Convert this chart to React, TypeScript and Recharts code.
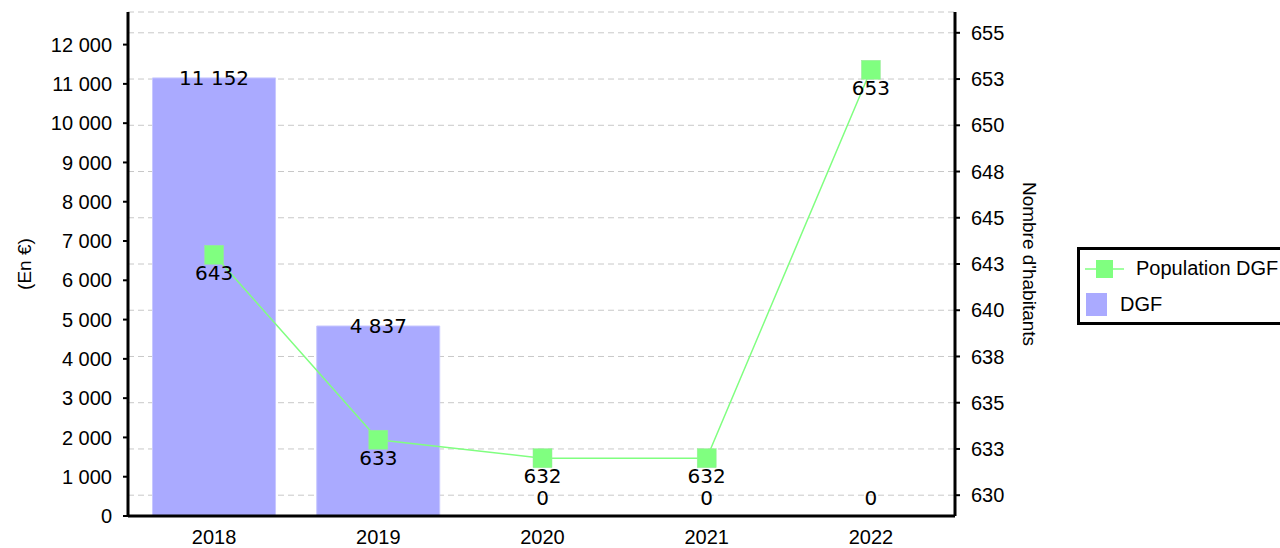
import React from "react";
import {
  ComposedChart,
  Bar,
  Line,
  XAxis,
  YAxis,
  CartesianGrid,
  LabelList,
} from "recharts";

// values
const years = ["2018", "2019", "2020", "2021", "2022"];
const dgf = [11152, 4837, 0, 0, 0];
const population = [643, 633, 632, 632, 653];

const leftTicks = [0, 1000, 2000, 3000, 4000, 5000, 6000, 7000, 8000, 9000, 10000, 11000, 12000];
const rightTicks = [630, 632.5, 635, 637.5, 640, 642.5, 645, 647.5, 650, 652.5, 655];
const leftDomain = [0, 12830];
const rightDomain = [628.875, 656.125];

const data = years.map((year, i) => ({ year, dgf: dgf[i], population: population[i] }));

const BAR_COLOR = "#aaaaff";
const LINE_COLOR = "#80ff80";
const SANS = "'Liberation Sans', Arial, sans-serif";
const DEJAVU = "'DejaVu Sans', sans-serif";

const spaced = (v: number) => String(v).replace(/\B(?=(\d{3})+(?!\d))/g, " ");

const SquareDot = (props: any) => {
  const { cx, cy } = props;
  if (cx == null || cy == null) return null;
  return <rect x={cx - 9.5} y={cy - 9.5} width={19} height={19} fill={LINE_COLOR} stroke="#9be89b" strokeWidth={0.5} />;
};

// bar value labels: centred on the bar top, zero values lifted above the axis
const BarValueLabel = (props: any) => {
  const { x, y, value } = props;
  if (x == null || y == null) return null;
  const cy = value === 0 ? y - 18 : y;
  return (
    <text
      x={x}
      y={cy}
      textAnchor="middle"
      dominantBaseline="central"
      fontFamily={DEJAVU}
      fontSize={20}
      fill="#000"
    >
      {spaced(value)}
    </text>
  );
};

const LegendBox = () => (
  <div
    style={{
      position: "absolute",
      left: 1077,
      top: 247,
      border: "3px solid #000",
      background: "#fff",
      width: 220,
      height: 78,
      boxSizing: "border-box",
      fontFamily: SANS,
      fontSize: 20,
      color: "#000",
    }}
  >
    <svg width={60} height={72} style={{ position: "absolute", left: 0, top: 0 }}>
      <line x1={5} y1={19} x2={44} y2={19} stroke={LINE_COLOR} strokeWidth={1.5} />
      <rect x={16} y={10} width={17} height={18} fill={LINE_COLOR} />
      <rect x={6} y={43} width={21} height={23} fill={BAR_COLOR} />
    </svg>
    <div style={{ position: "absolute", left: 56, top: 7, whiteSpace: "nowrap" }}>Population DGF</div>
    <div style={{ position: "absolute", left: 40, top: 43, whiteSpace: "nowrap" }}>DGF</div>
  </div>
);

export default function App() {
  return (
    <div style={{ position: "absolute", left: 0, top: 0, width: 1280, height: 548, background: "#fff" }}>
      <ComposedChart
        width={1280}
        height={548}
        data={data}
        margin={{ top: 12, right: 215, bottom: 0, left: 0 }}
        barCategoryGap="12.5%"
      >
        <CartesianGrid
          yAxisId="right"
          vertical={false}
          stroke="#c8c8c8"
          strokeDasharray="6 4"
        />
        <XAxis
          dataKey="year"
          height={32}
          padding={{ left: 4, right: 2 }}
          axisLine={{ stroke: "#000", strokeWidth: 3 }}
          tickLine={false}
          tickSize={0}
          tickMargin={14}
          tick={{ fill: "#000", fontSize: 20, fontFamily: SANS }}
          interval={0}
        />
        <YAxis
          yAxisId="left"
          width={128}
          domain={leftDomain}
          ticks={leftTicks}
          interval={0}
          tickFormatter={spaced}
          axisLine={{ stroke: "#000", strokeWidth: 3 }}
          tickLine={{ stroke: "#000", strokeWidth: 2 }}
          tickSize={5}
          tickMargin={11}
          tick={{ fill: "#000", fontSize: 20, fontFamily: SANS }}
          label={{
            value: "(En €)",
            angle: -90,
            position: "center",
            dx: -40,
            fill: "#000",
            fontSize: 19,
            fontFamily: SANS,
          }}
        />
        <YAxis
          yAxisId="right"
          orientation="right"
          width={110}
          domain={rightDomain}
          ticks={rightTicks}
          interval={0}
          tickFormatter={(v: number) => String(Math.round(v))}
          axisLine={{ stroke: "#000", strokeWidth: 3 }}
          tickLine={{ stroke: "#000", strokeWidth: 2 }}
          tickSize={5}
          tickMargin={11}
          tick={{ fill: "#000", fontSize: 20, fontFamily: SANS }}
          label={{
            value: "Nombre d'habitants",
            angle: 90,
            position: "center",
            dx: 20,
            fill: "#000",
            fontSize: 19,
            fontFamily: SANS,
          }}
        />
        <Bar
          yAxisId="left"
          dataKey="dgf"
          name="DGF"
          fill={BAR_COLOR}
          stroke="#c8c8ff"
          strokeWidth={1}
          isAnimationActive={false}
        />
        <Line
          yAxisId="left"
          dataKey="dgf"
          stroke="none"
          dot={false}
          activeDot={false}
          legendType="none"
          isAnimationActive={false}
        >
          <LabelList dataKey="dgf" content={<BarValueLabel />} />
        </Line>
        <Line
          yAxisId="right"
          dataKey="population"
          name="Population DGF"
          stroke={LINE_COLOR}
          strokeWidth={1.5}
          dot={<SquareDot />}
          activeDot={false}
          isAnimationActive={false}
        >
          <LabelList
            dataKey="population"
            position="bottom"
            offset={11}
            style={{ fill: "#000", fontSize: 20, fontFamily: DEJAVU }}
          />
        </Line>
      </ComposedChart>
      <LegendBox />
    </div>
  );
}
